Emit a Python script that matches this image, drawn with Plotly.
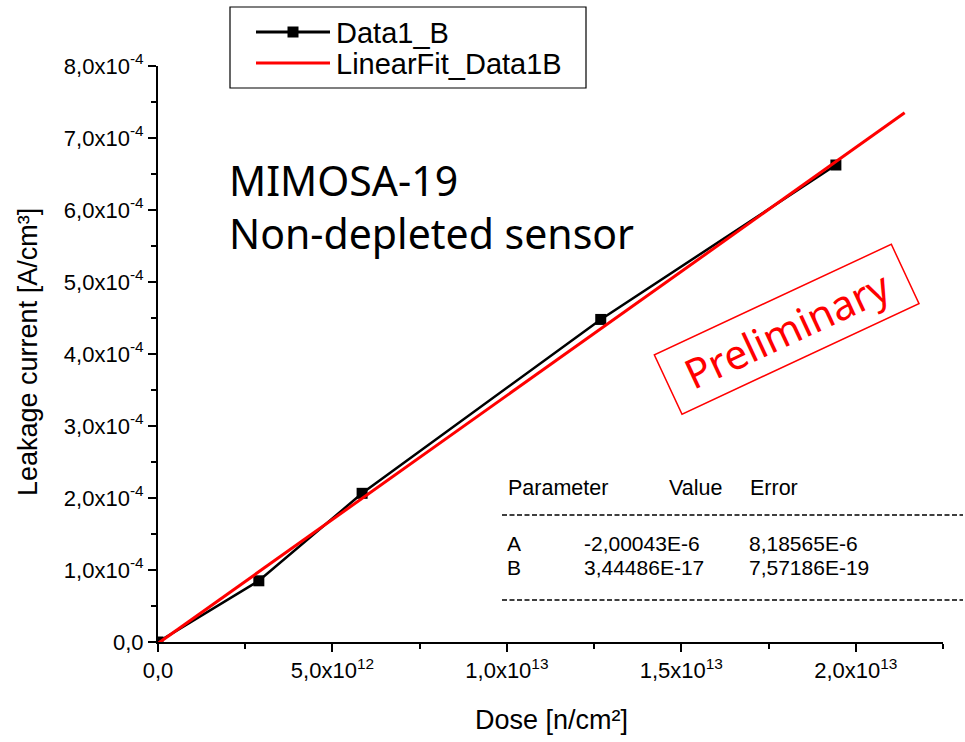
import plotly.graph_objects as go

# ---- data ----
dose = [0.0, 2.89e12, 5.85e12, 1.269e13, 1.943e13]
current = [0.0, 8.5e-5, 2.065e-4, 4.48e-4, 6.625e-4]

fit_dose = [0.0, 2.14e13]
fit_current = [-2.0e-6, 7.35e-4]

series_names = ["Data1_B", "LinearFit_Data1B"]

x_tickvals = [0, 5e12, 1e13, 1.5e13, 2e13]
x_ticktext = ["0,0", "5,0x10<sup>12</sup>", "1,0x10<sup>13</sup>", "1,5x10<sup>13</sup>", "2,0x10<sup>13</sup>"]
x_minor = [2.5e12, 7.5e12, 1.25e13, 1.75e13, 2.25e13]

y_tickvals = [0, 1e-4, 2e-4, 3e-4, 4e-4, 5e-4, 6e-4, 7e-4, 8e-4]
y_ticktext = ["0,0"] + [f"{i},0x10<sup>-4</sup>" for i in range(1, 9)]
y_minor = [0.5e-4, 1.5e-4, 2.5e-4, 3.5e-4, 4.5e-4, 5.5e-4, 6.5e-4, 7.5e-4]

param_names = ["A", "B"]
param_values = ["-2,00043E-6", "3,44486E-17"]
param_errors = ["8,18565E-6", "7,57186E-19"]

W, H = 965, 742
L, R, T, B = 158, 22, 66, 100
PW, PH = W - L - R, H - T - B

def px(x):
    return (x - L) / PW

def py(y):
    return (H - B - y) / PH

ARIAL = "Arial, Liberation Sans, sans-serif"
SANS = "Noto Sans, Open Sans, sans-serif"
BLACK = "black"
RED = "#ff0000"

fig = go.Figure()
fig.add_trace(go.Scatter(
    x=dose, y=current, name=series_names[0], mode="lines+markers",
    line=dict(color=BLACK, width=2.5),
    marker=dict(symbol="square", size=11, color=BLACK),
))
fig.add_trace(go.Scatter(
    x=fit_dose, y=fit_current, name=series_names[1], mode="lines",
    line=dict(color=RED, width=3),
))

axis_common = dict(
    showgrid=False, zeroline=False, showline=True, linecolor="black", linewidth=2,
    ticks="outside", ticklen=8, tickwidth=2, tickcolor="black",
    tickfont=dict(family=ARIAL, size=22, color="black"),
)
fig.update_xaxes(
    range=[0, 2.25e13], tickmode="array", tickvals=x_tickvals, ticktext=x_ticktext,
    minor=dict(tickmode="array", tickvals=x_minor, ticks="outside", ticklen=5,
               tickwidth=2, tickcolor="black"),
    **axis_common,
)
fig.update_yaxes(
    range=[0, 8e-4], tickmode="array", tickvals=y_tickvals, ticktext=y_ticktext,
    minor=dict(tickmode="array", tickvals=y_minor, ticks="outside", ticklen=5,
               tickwidth=2, tickcolor="black"),
    **axis_common,
)

ann = []
shapes = []
# axis titles
ann.append(dict(text="Dose [n/cm²]", x=px(551), y=py(720), xref="paper", yref="paper",
                showarrow=False, xanchor="center", yanchor="middle",
                font=dict(family=ARIAL, size=27, color="black")))
ann.append(dict(text="Leakage current [A/cm³]", x=px(28), y=py(352), xref="paper", yref="paper",
                showarrow=False, xanchor="center", yanchor="middle", textangle=-90,
                font=dict(family=ARIAL, size=27, color="black")))
# MIMOSA label
ann.append(dict(text="MIMOSA-19<br>Non-depleted sensor", x=px(227), y=py(207), xref="paper", yref="paper",
                showarrow=False, xanchor="left", yanchor="middle", align="left",
                font=dict(family=SANS, size=41, color="black")))
# Preliminary stamp
ann.append(dict(text="Preliminary", x=px(786), y=py(329), xref="paper", yref="paper",
                showarrow=False, xanchor="center", yanchor="middle", textangle=-25,
                width=252, height=56, borderpad=4, bordercolor=RED, borderwidth=1.5,
                bgcolor="rgba(255,255,255,0)",
                font=dict(family=SANS, size=41, color=RED)))
# parameter table
tf = dict(family=ARIAL, size=21.5, color="black")
tf_rows = dict(family=ARIAL, size=21, color="black")
for txt, x0 in [("Parameter", 506), ("Value", 667), ("Error", 748)]:
    ann.append(dict(text=txt, x=px(x0), y=py(488), xref="paper", yref="paper",
                    showarrow=False, xanchor="left", yanchor="middle", font=tf))
for i, (n, v, e) in enumerate(zip(param_names, param_values, param_errors)):
    yy = py(543 + 24 * i)
    for txt, x0 in [(n, 506), (v, 583), (e, 748)]:
        ann.append(dict(text=txt, x=px(x0), y=yy, xref="paper", yref="paper",
                        showarrow=False, xanchor="left", yanchor="middle", font=tf_rows,
                        borderpad=0))
for yline in (515, 600):
    shapes.append(dict(type="line", xref="paper", yref="paper",
                       x0=px(502), x1=px(963), y0=py(yline), y1=py(yline),
                       line=dict(color="black", width=1.5, dash="5px,2.5px")))

# legend box (drawn manually to match the reference spacing)
shapes.append(dict(type="rect", xref="paper", yref="paper",
                   x0=px(230), x1=px(586), y0=py(7), y1=py(88),
                   line=dict(color="black", width=1.2), fillcolor="white", layer="above"))
leg_rows = [(series_names[0], BLACK, 32, True), (series_names[1], RED, 63, False)]
for name, col, yrow, has_marker in leg_rows:
    shapes.append(dict(type="line", xref="paper", yref="paper",
                       x0=px(256), x1=px(330), y0=py(yrow), y1=py(yrow),
                       line=dict(color=col, width=3)))
    if has_marker:
        shapes.append(dict(type="rect", xref="paper", yref="paper",
                           x0=px(287.5), x1=px(298.5), y0=py(yrow - 5.5), y1=py(yrow + 5.5),
                           line=dict(color=col, width=0), fillcolor=col))
    ann.append(dict(text=name, x=px(334), y=py(yrow + 1), xref="paper", yref="paper",
                    showarrow=False, xanchor="left", yanchor="middle",
                    font=dict(family=ARIAL, size=29, color="black")))

fig.update_layout(
    width=W, height=H,
    margin=dict(l=L, r=R, t=T, b=B),
    paper_bgcolor="white", plot_bgcolor="white",
    showlegend=False,
    annotations=ann,
    shapes=shapes,
)

fig.write_html("out.html")
